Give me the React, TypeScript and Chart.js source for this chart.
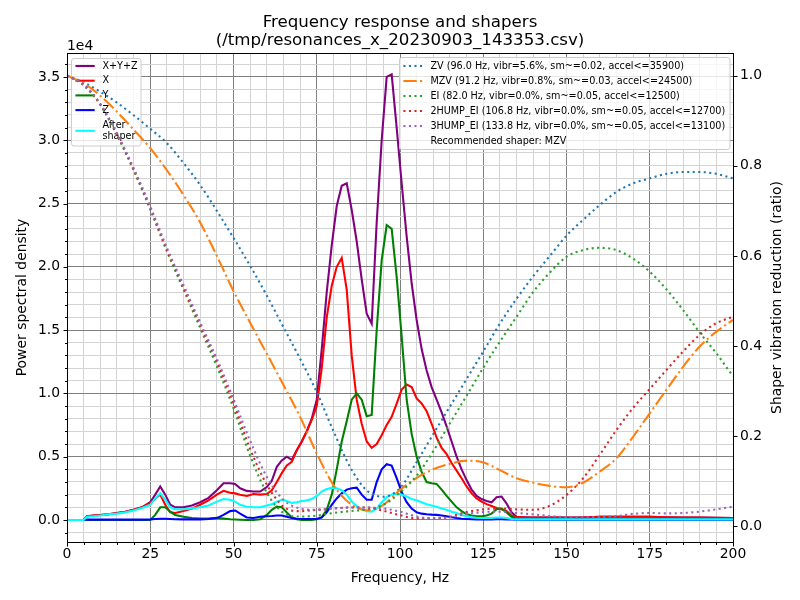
import React, { useEffect, useRef } from "react";
import { Chart, registerables } from "chart.js";

Chart.register(...registerables);

// ---------------- data ----------------
const FREQ = [
  0, 2.5, 5, 6, 8, 10, 12.5, 15, 17.5, 20,
  22.5, 25, 26.5, 28, 29.5, 31, 32.5, 35, 37.5, 40,
  42.5, 45, 47, 49, 50.5, 52, 54, 56, 58, 60,
  61.5, 63, 64.5, 66, 67.5, 69, 70.5, 72, 73.5, 75,
  76.5, 78, 79.5, 81, 82.5, 84, 85.5, 87, 88.5, 90,
  91.5, 93, 94.5, 96, 97.5, 99, 100.5, 102, 103.5, 105,
  106.5, 108, 109.5, 111, 112.5, 114, 115.5, 117, 118.5, 120,
  121.5, 123, 124.5, 126, 127.5, 129, 130.5, 132, 133.5, 135,
  137.5, 140, 145, 150, 155, 160, 165, 170, 175, 180,
  185, 190, 195, 200,
];

// PSD values in units of 1e4
const PSD_XYZ = [
  0, 0, 0, 0.03, 0.035, 0.04, 0.045, 0.055, 0.065, 0.08,
  0.1, 0.14, 0.2, 0.265, 0.2, 0.12, 0.1, 0.1, 0.115, 0.14,
  0.175, 0.235, 0.29, 0.29, 0.285, 0.25, 0.23, 0.225, 0.225, 0.26,
  0.31, 0.42, 0.47, 0.5, 0.475, 0.55, 0.62, 0.7, 0.8, 0.95,
  1.35, 1.8, 2.17, 2.48, 2.64, 2.66, 2.45, 2.2, 1.9, 1.63,
  1.55, 2.35, 3.0, 3.5, 3.52, 3.1, 2.66, 2.24, 1.87, 1.58,
  1.35, 1.18, 1.05, 0.95, 0.85, 0.74, 0.62, 0.5, 0.4, 0.315,
  0.24, 0.19, 0.165, 0.15, 0.14, 0.18, 0.185, 0.13, 0.06, 0.025,
  0.022, 0.02, 0.02, 0.02, 0.02, 0.025, 0.025, 0.025, 0.025, 0.022,
  0.02, 0.02, 0.018, 0.015,
];
const PSD_X = [
  0, 0, 0, 0.03, 0.035, 0.04, 0.045, 0.055, 0.065, 0.08,
  0.1, 0.135, 0.17, 0.2, 0.12, 0.06, 0.055, 0.07, 0.09, 0.12,
  0.155, 0.2, 0.23, 0.215, 0.21, 0.2, 0.19, 0.205, 0.2, 0.205,
  0.235, 0.3, 0.37, 0.43, 0.46, 0.55, 0.62, 0.7, 0.79, 0.9,
  1.2, 1.6, 1.85, 2.0, 2.07, 1.82, 1.3, 0.95, 0.76, 0.62,
  0.57, 0.6, 0.67, 0.75, 0.815, 0.92, 1.03, 1.07, 1.05, 0.96,
  0.92, 0.86, 0.76, 0.65, 0.57, 0.52, 0.45, 0.39, 0.33, 0.265,
  0.21, 0.17, 0.145, 0.125, 0.11, 0.095, 0.085, 0.07, 0.035, 0.025,
  0.02, 0.02, 0.02, 0.02, 0.02, 0.025, 0.025, 0.025, 0.025, 0.022,
  0.02, 0.02, 0.018, 0.015,
];
const PSD_Y = [
  0, 0, 0, 0, 0, 0, 0, 0, 0, 0,
  0, 0, 0.04, 0.1, 0.1, 0.065, 0.04, 0.025, 0.015, 0.012,
  0.012, 0.018, 0.012, 0.006, 0.004, 0.002, 0, 0, 0.005, 0.04,
  0.08, 0.105, 0.1, 0.06, 0.02, 0.005, 0, 0, 0, 0.005,
  0.02, 0.08, 0.2, 0.4, 0.62, 0.78, 0.95, 1.0, 0.95, 0.82,
  0.83, 1.5, 2.05, 2.33, 2.3, 1.92, 1.45, 0.95, 0.68, 0.5,
  0.38, 0.3, 0.29, 0.285, 0.24, 0.19, 0.145, 0.1, 0.07, 0.045,
  0.035, 0.03, 0.03, 0.035, 0.05, 0.085, 0.09, 0.06, 0.025, 0.01,
  0.005, 0.005, 0.005, 0.005, 0.005, 0.005, 0.005, 0.005, 0.005, 0.005,
  0.005, 0.005, 0.005, 0.005,
];
const PSD_Z = [
  0, 0, 0, 0.003, 0.003, 0.003, 0.003, 0.003, 0.003, 0.003,
  0.003, 0.005, 0.008, 0.01, 0.01, 0.008, 0.006, 0.005, 0.005, 0.005,
  0.008, 0.015, 0.04, 0.07, 0.075, 0.05, 0.02, 0.015, 0.025, 0.03,
  0.032, 0.035, 0.035, 0.025, 0.015, 0.01, 0.008, 0.008, 0.008, 0.008,
  0.02, 0.06, 0.12, 0.17, 0.21, 0.24, 0.25, 0.255, 0.2, 0.16,
  0.16, 0.3, 0.4, 0.44, 0.43, 0.33, 0.22, 0.14, 0.09, 0.06,
  0.05, 0.045, 0.042, 0.04, 0.036, 0.03, 0.022, 0.015, 0.01, 0.008,
  0.006, 0.005, 0.005, 0.005, 0.005, 0.006, 0.006, 0.005, 0.004, 0.003,
  0.003, 0.003, 0.003, 0.003, 0.003, 0.003, 0.003, 0.003, 0.003, 0.003,
  0.003, 0.003, 0.003, 0.003,
];
const PSD_SHAPED = [
  0, 0, 0, 0.025, 0.03, 0.035, 0.045, 0.05, 0.06, 0.075,
  0.095, 0.12, 0.17, 0.21, 0.16, 0.1, 0.085, 0.085, 0.09, 0.1,
  0.115, 0.145, 0.165, 0.16, 0.145, 0.12, 0.105, 0.1, 0.1, 0.115,
  0.125, 0.145, 0.16, 0.15, 0.135, 0.14, 0.15, 0.155, 0.165, 0.19,
  0.225, 0.245, 0.255, 0.25, 0.235, 0.2, 0.145, 0.11, 0.085, 0.07,
  0.065, 0.09, 0.14, 0.18, 0.2, 0.21, 0.2, 0.185, 0.165, 0.155,
  0.14, 0.125, 0.115, 0.105, 0.09, 0.08, 0.065, 0.055, 0.04, 0.03,
  0.022, 0.018, 0.015, 0.015, 0.015, 0.02, 0.02, 0.015, 0.008, 0.005,
  0.005, 0.005, 0.005, 0.005, 0.005, 0.005, 0.005, 0.005, 0.005, 0.005,
  0.005, 0.005, 0.005, 0.005,
];

const SHAPER_FREQ = [
  0, 5, 10, 15, 20, 25, 30, 35, 40, 45,
  50, 55, 60, 65, 70, 75, 80, 85, 90, 95,
  100, 105, 110, 115, 120, 125, 130, 135, 140, 145,
  150, 155, 160, 165, 170, 175, 180, 185, 190, 195,
  200,
];
const ZV = [
  1.0, 0.985, 0.964, 0.94, 0.912, 0.882, 0.85, 0.806, 0.757, 0.7,
  0.64, 0.578, 0.512, 0.442, 0.372, 0.298, 0.212, 0.132, 0.08, 0.066,
  0.085, 0.143, 0.205, 0.266, 0.327, 0.388, 0.45, 0.505, 0.555, 0.6,
  0.645, 0.68, 0.713, 0.742, 0.761, 0.772, 0.782, 0.786, 0.786, 0.782,
  0.772,
];
const MZV = [
  1.0, 0.983, 0.955, 0.92, 0.88, 0.839, 0.79, 0.735, 0.674, 0.6,
  0.522, 0.452, 0.383, 0.314, 0.243, 0.162, 0.092, 0.051, 0.036, 0.048,
  0.081, 0.108, 0.127, 0.139, 0.146, 0.142, 0.125, 0.107, 0.097, 0.09,
  0.087, 0.097, 0.122, 0.151, 0.199, 0.251, 0.303, 0.354, 0.399, 0.432,
  0.458,
];
const EI = [
  1.0, 0.978, 0.935, 0.868, 0.79, 0.703, 0.61, 0.525, 0.44, 0.355,
  0.262, 0.157, 0.075, 0.03, 0.022, 0.024, 0.03, 0.034, 0.038, 0.048,
  0.075, 0.113, 0.167, 0.229, 0.29, 0.352, 0.41, 0.465, 0.52, 0.563,
  0.598, 0.613, 0.618, 0.613, 0.594, 0.565, 0.526, 0.48, 0.43, 0.384,
  0.333,
];
const HUMP2_EI = [
  1.0, 0.98, 0.936, 0.87, 0.792, 0.706, 0.614, 0.53, 0.447, 0.365,
  0.274, 0.172, 0.093, 0.044, 0.034, 0.037, 0.04, 0.042, 0.042, 0.035,
  0.025, 0.018, 0.018, 0.022, 0.032, 0.038, 0.04, 0.038, 0.037, 0.046,
  0.07, 0.107, 0.159, 0.214, 0.263, 0.305, 0.347, 0.388, 0.425, 0.451,
  0.465,
];
const HUMP3_EI = [
  1.0, 0.98, 0.937, 0.872, 0.795, 0.71, 0.618, 0.535, 0.452, 0.372,
  0.283, 0.19, 0.11, 0.059, 0.04, 0.037, 0.04, 0.042, 0.042, 0.04,
  0.033, 0.022, 0.018, 0.02, 0.028, 0.032, 0.033, 0.03, 0.027, 0.023,
  0.021, 0.02, 0.021, 0.023, 0.028, 0.03, 0.029, 0.03, 0.033, 0.038,
  0.044,
];

const PSD_LABELS = ["X+Y+Z", "X", "Y", "Z", "After\nshaper"];
const SHAPER_LABELS = [
  "ZV (96.0 Hz, vibr=5.6%, sm~=0.02, accel<=35900)",
  "MZV (91.2 Hz, vibr=0.8%, sm~=0.03, accel<=24500)",
  "EI (82.0 Hz, vibr=0.0%, sm~=0.05, accel<=12500)",
  "2HUMP_EI (106.8 Hz, vibr=0.0%, sm~=0.05, accel<=12700)",
  "3HUMP_EI (133.8 Hz, vibr=0.0%, sm~=0.05, accel<=13100)",
];
const RECOMMENDED = "Recommended shaper: MZV";
const TITLE_LINES = ["Frequency response and shapers", "(/tmp/resonances_x_20230903_143353.csv)"];
const X_TITLE = "Frequency, Hz";
const Y_TITLE = "Power spectral density";
const Y2_TITLE = "Shaper vibration reduction (ratio)";
const PSD_OFFSET_TEXT = "1e4";

const X_MAJOR_TICKS = [0, 25, 50, 75, 100, 125, 150, 175, 200];
const Y_MAJOR_TICKS = [0, 0.5, 1.0, 1.5, 2.0, 2.5, 3.0, 3.5];
const Y2_TICKS = [0, 0.2, 0.4, 0.6, 0.8, 1.0];
const X_MINOR_STEP = 5;
const Y_MINOR_STEP = 0.1;

const X_RANGE = [0, 200];
const Y_RANGE = [-0.174, 3.689];
const Y2_RANGE = [-0.0344, 1.05];

// ---------------- style ----------------
const FONT = "'DejaVu Sans', sans-serif";
const LW = 2.08;
const DOT = [2.08, 3.44];
const DASHDOT = [13.33, 3.33, 2.08, 3.33];
const PSD_COLORS = ["#800080", "#ff0000", "#008000", "#0000ff", "#00ffff"];
const SHAPER_COLORS = ["#1f77b4", "#ff7f0e", "#2ca02c", "#d62728", "#9467bd"];
const SHAPER_DASH = [DOT, DASHDOT, DOT, DOT, DOT];

function range(a: number, b: number, step: number): number[] {
  const out: number[] = [];
  const n = Math.round((b - a) / step);
  for (let i = 0; i <= n; i++) out.push(Math.round((a + i * step) * 1000) / 1000);
  return out;
}
const X_TICKS = range(X_RANGE[0], X_RANGE[1], X_MINOR_STEP);
const Y_TICKS = range(-0.1, 3.6, Y_MINOR_STEP);

const isMajor = (v: number, list: number[]) => list.some((m) => Math.abs(m - v) < 1e-6);

function roundRectPath(ctx: CanvasRenderingContext2D, x: number, y: number, w: number, h: number, r: number) {
  ctx.beginPath();
  ctx.moveTo(x + r, y);
  ctx.lineTo(x + w - r, y);
  ctx.arcTo(x + w, y, x + w, y + r, r);
  ctx.lineTo(x + w, y + h - r);
  ctx.arcTo(x + w, y + h, x + w - r, y + h, r);
  ctx.lineTo(x + r, y + h);
  ctx.arcTo(x, y + h, x, y + h - r, r);
  ctx.lineTo(x, y + r);
  ctx.arcTo(x, y, x + r, y, r);
  ctx.closePath();
}

type LegendItem = { text: string; color?: string; dash?: number[]; y: number };

function drawLegend(ctx: CanvasRenderingContext2D, bx: number, by: number, bw: number, bh: number, items: LegendItem[]) {
  ctx.save();
  roundRectPath(ctx, bx, by, bw, bh, 2.5);
  ctx.fillStyle = "rgba(255,255,255,0.8)";
  ctx.fill();
  ctx.strokeStyle = "#cccccc";
  ctx.lineWidth = 1;
  ctx.stroke();
  ctx.font = `9.64px ${FONT}`;
  ctx.textBaseline = "middle";
  ctx.textAlign = "left";
  for (const it of items) {
    const lines = it.text.split("\n");
    if (it.color) {
      ctx.beginPath();
      ctx.strokeStyle = it.color;
      ctx.lineWidth = LW;
      ctx.lineCap = "butt";
      ctx.setLineDash(it.dash || []);
      ctx.moveTo(bx + 3.9, it.y);
      ctx.lineTo(bx + 3.9 + 19.3, it.y);
      ctx.stroke();
      ctx.setLineDash([]);
    }
    ctx.fillStyle = "#000";
    const lh = 11;
    const y0 = it.y - ((lines.length - 1) * lh) / 2;
    lines.forEach((ln, k) => ctx.fillText(ln, bx + 30.9, y0 + k * lh));
  }
  ctx.restore();
}

const overlayPlugin = {
  id: "overlay",
  afterDatasetDraw(chart: any, args: any) {
    if (args.index === PSD_LABELS.length - 1) {
      const ys = [66, 80.7, 95.4, 110.1, 130.8];
      drawLegend(
        chart.ctx, 71.5, 58.5, 69.5, 87.5,
        PSD_LABELS.map((t, i) => ({ text: t, color: PSD_COLORS[i], y: ys[i] }))
      );
    }
  },
  afterDatasetsDraw(chart: any) {
    const ctx: CanvasRenderingContext2D = chart.ctx;
    const a = chart.chartArea;
    ctx.save();
    ctx.strokeStyle = "#000";
    ctx.lineWidth = 1;
    ctx.strokeRect(Math.round(a.left) + 0.5, Math.round(a.top) + 0.5, Math.round(a.right - a.left), Math.round(a.bottom - a.top));
    ctx.restore();
    const items: LegendItem[] = SHAPER_LABELS.map((t, i) => ({
      text: t, color: SHAPER_COLORS[i], dash: SHAPER_DASH[i], y: 66 + i * 15,
    }));
    items.push({ text: RECOMMENDED, y: 66 + 5 * 15 });
    drawLegend(ctx, 399.5, 57.5, 330.5, 92, items);
  },
  afterDraw(chart: any) {
    const ctx: CanvasRenderingContext2D = chart.ctx;
    const a = chart.chartArea;
    const xs = chart.scales.x, ys = chart.scales.y, y2 = chart.scales.y2;
    ctx.save();
    ctx.strokeStyle = "#000";
    ctx.lineWidth = 1;
    ctx.beginPath();
    const bottom = Math.round(a.bottom) + 1;
    for (const v of X_TICKS) {
      const px = Math.round(xs.getPixelForValue(v)) + 0.5;
      const len = isMajor(v, X_MAJOR_TICKS) ? 3.5 : 2;
      ctx.moveTo(px, bottom);
      ctx.lineTo(px, bottom + len);
    }
    const left = Math.round(a.left);
    for (const v of Y_TICKS) {
      const py = Math.round(ys.getPixelForValue(v)) + 0.5;
      const len = isMajor(v, Y_MAJOR_TICKS) ? 3.5 : 2;
      ctx.moveTo(left, py);
      ctx.lineTo(left - len, py);
    }
    const right = Math.round(a.right) + 1;
    for (const v of Y2_TICKS) {
      const py = Math.round(y2.getPixelForValue(v)) + 0.5;
      ctx.moveTo(right, py);
      ctx.lineTo(right + 3.5, py);
    }
    ctx.stroke();

    ctx.fillStyle = "#000";
    ctx.textAlign = "center";
    ctx.textBaseline = "alphabetic";
    ctx.font = `16.67px ${FONT}`;
    ctx.fillText(TITLE_LINES[0], (a.left + a.right) / 2, 27);
    ctx.fillText(TITLE_LINES[1], (a.left + a.right) / 2, 45);
    ctx.font = `13.9px ${FONT}`;
    ctx.fillText(X_TITLE, (a.left + a.right) / 2, 582);
    ctx.textAlign = "left";
    ctx.fillText(PSD_OFFSET_TEXT, a.left, 49.5);
    const cy = (a.top + a.bottom) / 2;
    ctx.save();
    ctx.translate(25.5, cy);
    ctx.rotate(-Math.PI / 2);
    ctx.textAlign = "center";
    ctx.fillText(Y_TITLE, 0, 0);
    ctx.restore();
    ctx.save();
    ctx.translate(781, cy);
    ctx.rotate(-Math.PI / 2);
    ctx.textAlign = "center";
    ctx.fillText(Y2_TITLE, 0, 0);
    ctx.restore();
    ctx.restore();
  },
};

function toPoints(xs: number[], ys: number[]) {
  return xs.map((x, i) => ({ x, y: ys[i] }));
}

export default function App() {
  const ref = useRef<HTMLCanvasElement | null>(null);
  useEffect(() => {
    if (!ref.current) return;
    const psdSeries = [PSD_XYZ, PSD_X, PSD_Y, PSD_Z, PSD_SHAPED];
    const shaperSeries = [ZV, MZV, EI, HUMP2_EI, HUMP3_EI];
    const datasets: any[] = [];
    psdSeries.forEach((s, i) => {
      datasets.push({
        label: PSD_LABELS[i],
        data: toPoints(FREQ, s),
        yAxisID: "y",
        borderColor: PSD_COLORS[i],
        borderWidth: LW,
        pointRadius: 0,
        tension: 0,
        fill: false,
        order: 20 - i,
      });
    });
    shaperSeries.forEach((s, i) => {
      datasets.push({
        label: SHAPER_LABELS[i],
        data: toPoints(SHAPER_FREQ, s),
        yAxisID: "y2",
        borderColor: SHAPER_COLORS[i],
        borderWidth: LW,
        borderDash: SHAPER_DASH[i],
        borderCapStyle: "butt",
        pointRadius: 0,
        tension: 0.4,
        cubicInterpolationMode: "monotone",
        fill: false,
        order: 10 - i,
      });
    });
    const tickFont = { family: FONT, size: 13.9 };
    const chart = new Chart(ref.current, {
      type: "line",
      data: { datasets },
      options: {
        animation: false,
        responsive: false,
        devicePixelRatio: 1,
        events: [],
        layout: { padding: { top: 53, left: 0, right: 0, bottom: 0 } },
        plugins: { legend: { display: false }, title: { display: false }, tooltip: { enabled: false } },
        scales: {
          x: {
            type: "linear",
            position: "bottom",
            min: X_RANGE[0],
            max: X_RANGE[1],
            bounds: "data",
            afterBuildTicks: (s: any) => { s.ticks = X_TICKS.map((v) => ({ value: v })); },
            afterFit: (s: any) => { s.height = 58; },
            ticks: {
              autoSkip: false,
              maxRotation: 0,
              minRotation: 0,
              padding: 4,
              color: "#000",
              font: tickFont,
              callback: (v: any) => (isMajor(Number(v), X_MAJOR_TICKS) ? String(Math.round(Number(v))) : ""),
            },
            grid: {
              drawTicks: false,
              lineWidth: 1,
              color: (c: any) => (c.tick && isMajor(c.tick.value, X_MAJOR_TICKS) ? "#808080" : "#d3d3d3"),
            },
            border: { display: false },
          },
          y: {
            type: "linear",
            position: "left",
            min: Y_RANGE[0],
            max: Y_RANGE[1],
            bounds: "data",
            afterBuildTicks: (s: any) => { s.ticks = Y_TICKS.map((v) => ({ value: v })); },
            afterFit: (s: any) => { s.width = 67; },
            ticks: {
              autoSkip: false,
              padding: 7,
              color: "#000",
              font: tickFont,
              callback: (v: any) => (isMajor(Number(v), Y_MAJOR_TICKS) ? Number(v).toFixed(1) : ""),
            },
            grid: {
              drawTicks: false,
              lineWidth: 1,
              color: (c: any) => (c.tick && isMajor(c.tick.value, Y_MAJOR_TICKS) ? "#808080" : "#d3d3d3"),
            },
            border: { display: false },
          },
          y2: {
            type: "linear",
            position: "right",
            min: Y2_RANGE[0],
            max: Y2_RANGE[1],
            bounds: "data",
            afterBuildTicks: (s: any) => { s.ticks = Y2_TICKS.map((v) => ({ value: v })); },
            afterFit: (s: any) => { s.width = 67; },
            ticks: {
              autoSkip: false,
              padding: 7,
              color: "#000",
              font: tickFont,
              callback: (v: any) => Number(v).toFixed(1),
            },
            grid: { display: false, drawTicks: false },
            border: { display: false },
          },
        },
      },
      plugins: [overlayPlugin],
    } as any);
    return () => chart.destroy();
  }, []);
  return (
    <div style={{ position: "fixed", left: 0, top: 0, width: 800, height: 600, background: "#fff" }}>
      <canvas ref={ref} width={800} height={600} style={{ display: "block", width: 800, height: 600 }} />
    </div>
  );
}
